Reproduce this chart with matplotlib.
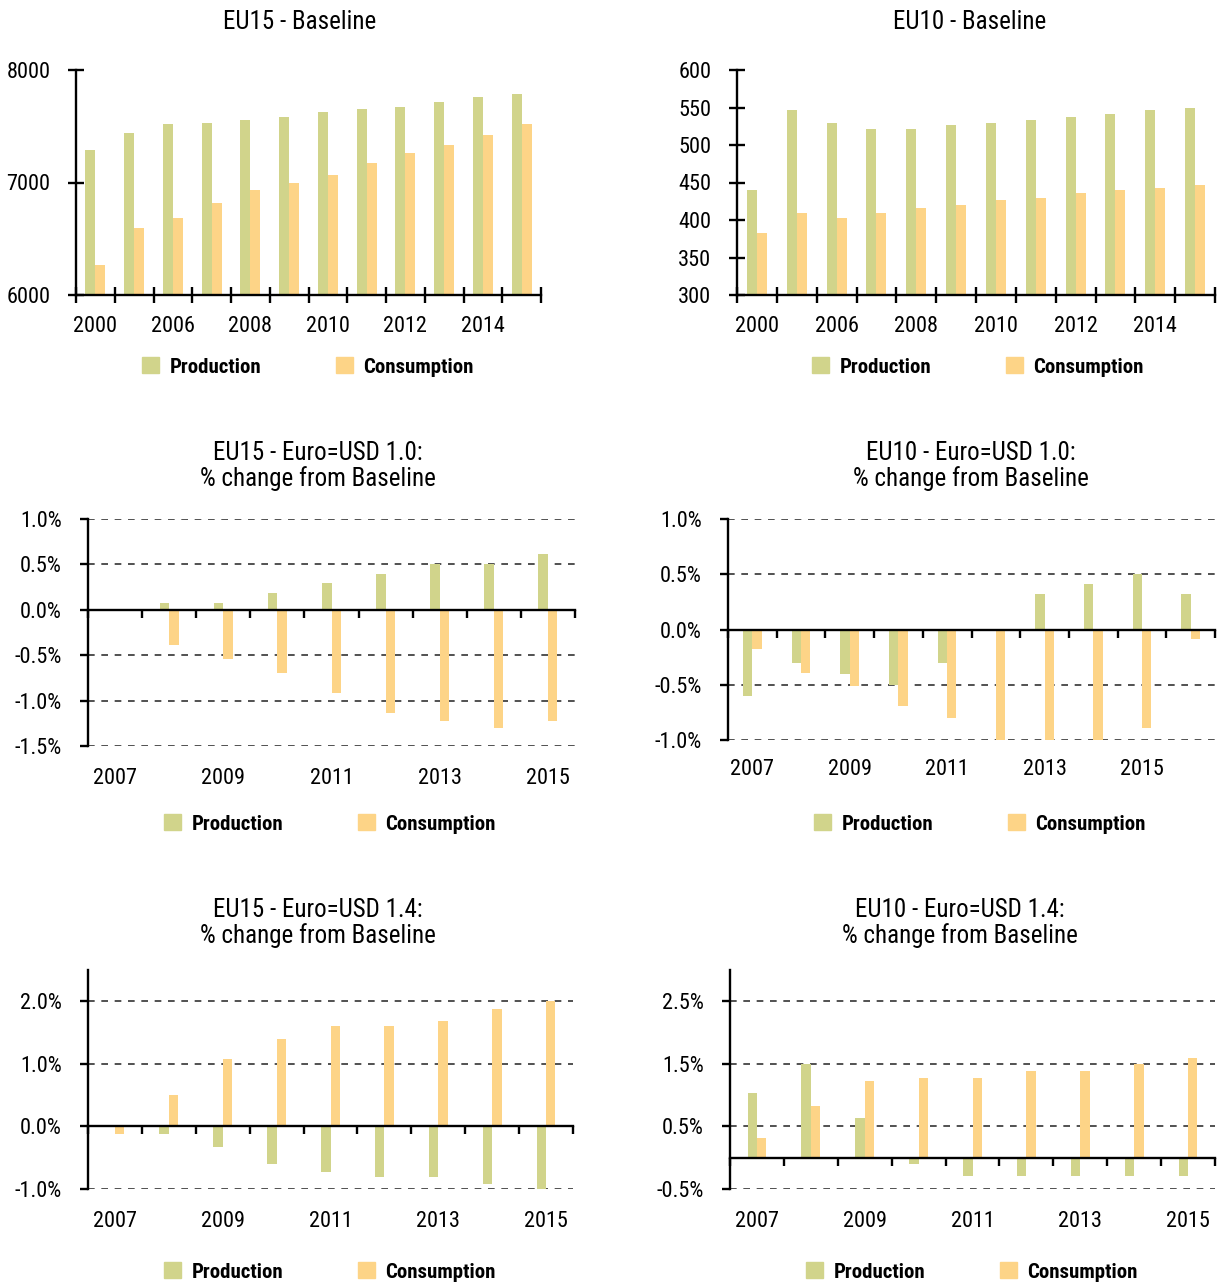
import numpy as np
import matplotlib
matplotlib.use('Agg')
import matplotlib.pyplot as plt
from matplotlib import font_manager
from matplotlib.patches import Patch

# pick a narrow font if one is installed
available = {f.name for f in font_manager.fontManager.ttflist}
FONT = 'DejaVu Sans'
for cand in ['Liberation Sans Narrow', 'Roboto Condensed', 'Open Sans Condensed']:
    if cand in available:
        FONT = cand
        break
plt.rcParams['font.family'] = FONT

GREEN = '#D1D48B'
ORANGE = '#FDD487'

# Baseline (12 categories)
base_years = ['2000', '2005', '2006', '2007', '2008', '2009', '2010',
              '2011', '2012', '2013', '2014', '2015']
eu15_base_prod = [7293, 7444, 7516, 7533, 7560, 7578, 7623, 7649, 7667, 7712, 7756, 7783]
eu15_base_cons = [6267, 6597, 6686, 6820, 6936, 6999, 7070, 7177, 7266, 7337, 7426, 7516]
eu10_base_prod = [440, 547, 530, 521, 521, 527, 530, 534, 537, 541, 547, 550]
eu10_base_cons = [383, 410, 403, 410, 416, 420, 427, 430, 436, 440, 443, 447]

# Scenarios, % change from baseline
scen_years = ['2007', '2008', '2009', '2010', '2011', '2012', '2013', '2014', '2015']
scen_years_10 = scen_years + ['2016']
eu15_usd10_prod = [0, 0.08, 0.08, 0.19, 0.30, 0.39, 0.50, 0.50, 0.62]
eu15_usd10_cons = [0, -0.39, -0.54, -0.70, -0.92, -1.14, -1.23, -1.30, -1.23]
eu10_usd10_prod = [-0.60, -0.30, -0.40, -0.50, -0.30, 0, 0.32, 0.41, 0.50, 0.32]
eu10_usd10_cons = [-0.18, -0.39, -0.51, -0.69, -0.80, -1.0, -1.0, -1.0, -0.89, -0.09]
eu15_usd14_prod = [0, -0.12, -0.33, -0.60, -0.73, -0.81, -0.81, -0.92, -1.0]
eu15_usd14_cons = [-0.12, 0.51, 1.07, 1.39, 1.60, 1.60, 1.68, 1.87, 2.0]
eu10_usd14_prod = [1.03, 1.5, 0.63, -0.1, -0.3, -0.3, -0.3, -0.3, -0.3]
eu10_usd14_cons = [0.31, 0.83, 1.22, 1.27, 1.27, 1.38, 1.38, 1.5, 1.59]

W, H = 1218, 1287
fig = plt.figure(figsize=(W / 100, H / 100), dpi=100)


def px_axes(left, right, top, bottom):
    return fig.add_axes([left / W, 1 - bottom / H, (right - left) / W, (bottom - top) / H])


def draw(ax, labels, prod, cons, width, ylim, yticks, pct, label_pad):
    x = np.arange(len(labels))
    ax.bar(x - width / 2, prod, width, color=GREEN, zorder=1)
    ax.bar(x + width / 2, cons, width, color=ORANGE, zorder=1)
    ax.set_xlim(-0.5, len(labels) - 0.5)
    ax.set_ylim(*ylim)
    ax.set_yticks(yticks)
    if pct:
        ax.set_yticklabels([f'{v:.1f}%' for v in yticks])
        for v in yticks:
            if v != 0:
                ax.axhline(v, color='#333333', lw=1.2, ls=(0, (4, 4)), zorder=0.5)
        ax.spines['bottom'].set_position(('data', 0))
        tdir, tlen = 'out', 6
    else:
        ax.set_yticklabels([str(v) for v in yticks])
        tdir, tlen = 'inout', 11
    for s in ['top', 'right']:
        ax.spines[s].set_visible(False)
    for s in ['left', 'bottom']:
        ax.spines[s].set_linewidth(1.7)
    ax.set_xticks(np.arange(len(labels) + 1) - 0.5)
    ax.tick_params(axis='x', direction=tdir, length=tlen, width=1.7, labelbottom=False)
    ax.tick_params(axis='y', direction=tdir, length=tlen, width=1.7, pad=13, labelsize=16)
    sec = ax.secondary_xaxis('bottom')
    sec.set_xticks(x[::2])
    sec.set_xticklabels(labels[::2])
    sec.tick_params(length=0, pad=label_pad, labelsize=16)
    sec.spines['bottom'].set_visible(False)


def legend(cx, cy):
    handles = [Patch(color=GREEN, label='Production'), Patch(color=ORANGE, label='Consumption')]
    fig.legend(handles=handles, loc='center', bbox_to_anchor=(cx / W, 1 - cy / H),
               ncol=2, frameon=False, prop={'weight': 'bold', 'size': 15},
               handlelength=0.8, handleheight=0.8, columnspacing=3.6, handletextpad=0.5)


def title(cx, cy, text):
    fig.text(cx / W, 1 - cy / H, text, ha='center', va='center',
             fontsize=18, linespacing=1.1, multialignment='center')


# EU15 baseline
ax = px_axes(76, 541, 70, 295)
draw(ax, base_years, eu15_base_prod, eu15_base_cons, 0.26, (6000, 8000),
     [6000, 7000, 8000], False, 15)
title(300, 22, 'EU15 - Baseline')
legend(308, 367)

# EU10 baseline
ax = px_axes(737, 1215, 70, 295)
draw(ax, base_years, eu10_base_prod, eu10_base_cons, 0.25, (300, 600),
     [300, 350, 400, 450, 500, 550, 600], False, 15)
title(970, 22, 'EU10 - Baseline')
legend(978, 367)

# EU15 Euro=USD 1.0
ax = px_axes(88, 575, 519, 746)
draw(ax, scen_years, eu15_usd10_prod, eu15_usd10_cons, 0.175, (-1.5, 1.0),
     [-1.5, -1.0, -0.5, 0.0, 0.5, 1.0], True, 16)
title(318, 466, 'EU15 - Euro=USD 1.0:\n% change from Baseline')
legend(330, 824)

# EU10 Euro=USD 1.0
ax = px_axes(728, 1215, 519, 740)
draw(ax, scen_years_10, eu10_usd10_prod, eu10_usd10_cons, 0.19, (-1.0, 1.0),
     [-1.0, -0.5, 0.0, 0.5, 1.0], True, 14)
title(971, 466, 'EU10 - Euro=USD 1.0:\n% change from Baseline')
legend(980, 824)

# EU15 Euro=USD 1.4
ax = px_axes(88, 573, 970, 1189)
draw(ax, scen_years, eu15_usd14_prod, eu15_usd14_cons, 0.175, (-1.0, 2.5),
     [-1.0, 0.0, 1.0, 2.0], True, 16)
title(318, 923, 'EU15 - Euro=USD 1.4:\n% change from Baseline')
legend(330, 1272)

# EU10 Euro=USD 1.4
ax = px_axes(730, 1215, 970, 1189)
draw(ax, scen_years, eu10_usd14_prod, eu10_usd14_cons, 0.175, (-0.5, 3.0),
     [-0.5, 0.5, 1.5, 2.5], True, 16)
title(960, 923, 'EU10 - Euro=USD 1.4:\n% change from Baseline')
legend(972, 1272)

fig.savefig('out.png', dpi=100)
